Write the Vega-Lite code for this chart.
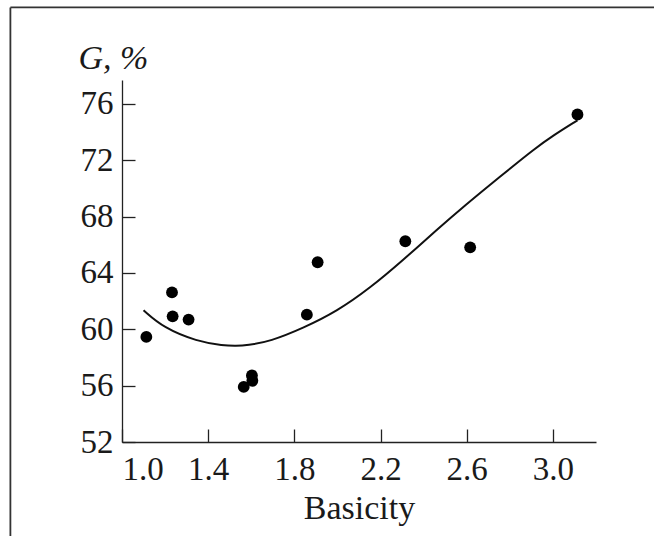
{
  "$schema": "https://vega.github.io/schema/vega-lite/v6.json",
  "width": 474,
  "height": 362,
  "autosize": {"type": "none"},
  "padding": {"left": 122, "top": 80, "right": 58, "bottom": 94},
  "background": "white",
  "config": {
    "view": {"stroke": null},
    "font": "Liberation Serif",
    "axis": {
      "grid": false,
      "domainColor": "#222",
      "domainWidth": 1.3,
      "tickColor": "#222",
      "tickWidth": 1.3,
      "tickSize": -13,
      "labelFont": "Liberation Serif",
      "labelFontSize": 33,
      "labelColor": "#1a1a1a",
      "titleFont": "Liberation Serif",
      "titleFontSize": 34,
      "titleFontWeight": "normal",
      "titleColor": "#1a1a1a"
    }
  },
  "datasets": {
    "points": [
      {"basicity": 1.113, "G": 59.46},
      {"basicity": 1.232, "G": 62.62},
      {"basicity": 1.235, "G": 60.92},
      {"basicity": 1.309, "G": 60.69},
      {"basicity": 1.565, "G": 55.91},
      {"basicity": 1.603, "G": 56.73},
      {"basicity": 1.605, "G": 56.35},
      {"basicity": 1.858, "G": 61.04},
      {"basicity": 1.908, "G": 64.76},
      {"basicity": 2.315, "G": 66.25},
      {"basicity": 2.616, "G": 65.82},
      {"basicity": 3.114, "G": 75.25}
    ],
    "curve": [
      {"basicity": 1.1, "G": 61.35},
      {"basicity": 1.193, "G": 60.1},
      {"basicity": 1.348, "G": 59.14},
      {"basicity": 1.471, "G": 58.84},
      {"basicity": 1.53, "G": 58.82},
      {"basicity": 1.58, "G": 58.86},
      {"basicity": 1.688, "G": 59.14},
      {"basicity": 1.843, "G": 60.1},
      {"basicity": 1.998, "G": 61.28},
      {"basicity": 2.152, "G": 62.94},
      {"basicity": 2.3, "G": 64.85},
      {"basicity": 2.462, "G": 67.08},
      {"basicity": 2.6, "G": 68.9},
      {"basicity": 2.709, "G": 70.27},
      {"basicity": 2.8, "G": 71.4},
      {"basicity": 2.91, "G": 72.76},
      {"basicity": 3.0, "G": 73.75},
      {"basicity": 3.114, "G": 74.84}
    ],
    "frame": [
      {"x1": 0.482, "x2": 0.482, "y1": 82.85, "y2": 40},
      {"x1": 0.482, "x2": 3.9, "y1": 82.85, "y2": 82.85}
    ]
  },
  "encoding": {
    "x": {
      "field": "basicity",
      "type": "quantitative",
      "scale": {"domain": [1.0, 3.2], "nice": false, "zero": false},
      "axis": {
        "values": [1.0, 1.4, 1.8, 2.2, 2.6, 3.0],
        "format": ".1f",
        "labelPadding": 24,
        "title": "Basicity",
        "titleBaseline": "alphabetic",
        "titleY": 76
      }
    },
    "y": {
      "field": "G",
      "type": "quantitative",
      "scale": {"domain": [52, 77.7], "nice": false, "zero": false},
      "axis": {
        "values": [52, 56, 60, 64, 68, 72, 76],
        "labelPadding": 22,
        "title": "G, %",
        "titleFontStyle": "italic",
        "titleAngle": 0,
        "titleAlign": "left",
        "titleBaseline": "alphabetic",
        "titleX": -44,
        "titleY": -12
      }
    }
  },
  "layer": [
    {
      "data": {"name": "frame"},
      "mark": {"type": "rule", "color": "#333", "strokeWidth": 1.8},
      "encoding": {
        "x": {"field": "x1", "type": "quantitative"},
        "x2": {"field": "x2"},
        "y": {"field": "y1", "type": "quantitative"},
        "y2": {"field": "y2"}
      }
    },
    {
      "data": {"name": "curve"},
      "mark": {"type": "line", "interpolate": "basis", "color": "#111", "strokeWidth": 2}
    },
    {
      "data": {"name": "points"},
      "mark": {"type": "circle", "size": 140, "color": "#000", "opacity": 1}
    }
  ]
}
